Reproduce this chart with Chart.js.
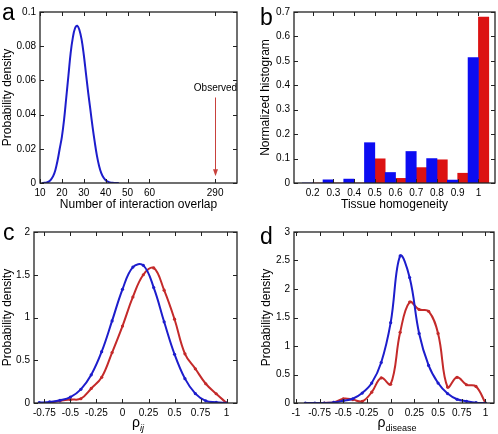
<!DOCTYPE html>
<html>
<head>
<meta charset="utf-8">
<script src="https://cdn.jsdelivr.net/npm/chart.js@4.4.1/dist/chart.umd.min.js"></script>
<style>
html, body { margin: 0; padding: 0; background: #fff; }
#wrap { position: relative; width: 498px; height: 434px; font-family: 'Liberation Sans', Arial, sans-serif; color: #000; }
canvas { position: absolute; }
.tag { position: absolute; font-size: 23px; line-height: 23px; }
.xt { position: absolute; font-size: 14px; line-height: 14px; white-space: nowrap; transform: translateX(-50%); }
.xt sub { font-size: 9px; vertical-align: -4px; }
</style>
</head>
<body>
<div id="wrap">
  <canvas id="ca" width="249" height="217" style="left:0;top:0"></canvas>
  <canvas id="cb" width="250" height="217" style="left:248px;top:0"></canvas>
  <canvas id="cc" width="249" height="217" style="left:0;top:217px"></canvas>
  <canvas id="cd" width="250" height="217" style="left:248px;top:217px"></canvas>
  <div class="tag" style="left:2px;top:1px">a</div>
  <div class="tag" style="left:260px;top:6px">b</div>
  <div class="tag" style="left:3px;top:221px">c</div>
  <div class="tag" style="left:260px;top:225px">d</div>
  <div class="xt" style="left:138px;top:415px">ρ<sub><i>ij</i></sub></div>
  <div class="xt" style="left:397px;top:415px">ρ<sub>disease</sub></div>
</div>
<script>
// panel a: null distribution of interaction overlap
const aX = [11, 12, 13, 14, 15, 16, 17, 18, 19, 20, 21, 22, 23, 24, 25, 26, 27, 28,
            29, 30, 31, 32, 33, 34, 35, 36, 37, 38, 39, 40, 41, 42, 43, 44, 45, 46];
const aY = [0, 0.0001, 0.0003, 0.0008, 0.002, 0.004, 0.0075, 0.013, 0.02, 0.027, 0.037, 0.05,
            0.063, 0.076, 0.085, 0.0905, 0.092, 0.0895, 0.084, 0.075, 0.064, 0.053, 0.043, 0.033,
            0.024, 0.016, 0.01, 0.0058, 0.0032, 0.0016, 0.0008, 0.0003, 0.0001, 0, 0, 0];
const aXTicks = [10, 20, 30, 40, 50, 60, 290];
const aYTicks = [0, 0.02, 0.04, 0.06, 0.08, 0.1];
const aYLabels = ['0', '0.02', '0.04', '0.06', '0.08', '0.1'];
const observed = 290;
const observedArrow = [0.05, 0.004];

// panel b: tissue homogeneity histogram
const bCats = [0.2, 0.3, 0.4, 0.5, 0.6, 0.7, 0.8, 0.9, 1];
const bBlue = [0, 0.013, 0.016, 0.165, 0.043, 0.129, 0.1, 0.012, 0.513];
const bRed = [0, 0, 0, 0.099, 0.019, 0.063, 0.095, 0.04, 0.679];
const bYTicks = [0, 0.1, 0.2, 0.3, 0.4, 0.5, 0.6, 0.7];

// panel c: rho_ij
const cX = [-0.8, -0.7, -0.6, -0.5, -0.4, -0.3, -0.2, -0.1, 0, 0.1, 0.2, 0.3, 0.4, 0.5, 0.6, 0.7, 0.8, 0.9, 1];
const cBlue = [0.005, 0.012, 0.032, 0.07, 0.16, 0.33, 0.6, 0.96, 1.33, 1.59, 1.61, 1.35, 0.95, 0.57, 0.285, 0.11, 0.025, 0.008, 0];
const cRed = [null, 0.005, 0.025, 0.04, 0.05, 0.17, 0.3, 0.59, 0.9, 1.24, 1.5, 1.58, 1.32, 0.98, 0.575, 0.4, 0.225, 0.108, 0];
const cXTicks = [-0.75, -0.5, -0.25, 0, 0.25, 0.5, 0.75, 1];
const cYTicks = [0, 0.5, 1, 1.5, 2];

// panel d: rho_disease
const dX = [-0.9, -0.8, -0.7, -0.6, -0.5, -0.4, -0.3, -0.2, -0.1, 0, 0.1, 0.2, 0.3, 0.4, 0.5, 0.6, 0.7, 0.8, 0.9, 1];
const dBlue = [0, 0, 0, 0.01, 0.04, 0.075, 0.175, 0.35, 0.71, 1.41, 2.58, 2.2, 1.22, 0.66, 0.35, 0.165, 0.065, 0.03, 0.005, 0];
const dRed = [null, null, 0, 0.01, 0.075, 0.06, 0.03, 0.19, 0.44, 0.33, 1.24, 1.77, 1.64, 1.61, 1.22, 0.28, 0.45, 0.32, 0.29, 0];
const dXTicks = [-1, -0.75, -0.5, -0.25, 0, 0.25, 0.5, 0.75, 1];
const dYTicks = [0, 0.5, 1, 1.5, 2, 2.5, 3];

const BLUE = '#1d1dcc';
const RED = '#c42a2a';

Chart.defaults.font.family = "'Liberation Sans', Arial, sans-serif";
Chart.defaults.font.size = 10;
Chart.defaults.color = '#000';
Chart.defaults.animation = false;
Chart.defaults.plugins.legend.display = false;
Chart.defaults.plugins.tooltip.enabled = false;

// axis break on panel a: values past 60 are squeezed next to 90
const aPos = v => v <= 60 ? v : 90 + (v - observed) / 10;

const fmt = v => String(v);

function axis(o) {
    return {
        type: 'linear',
        min: o.min,
        max: o.max,
        offset: false,
        afterBuildTicks: s => { s.ticks = o.ticks.map(v => ({ value: v })); },
        afterFit: s => { if (o.horiz) s.height = o.size; else s.width = o.size; },
        grid: { display: false, drawTicks: false },
        border: { display: false },
        ticks: {
            padding: 4,
            autoSkip: false,
            maxRotation: 0,
            color: '#000',
            font: { size: 10 },
            callback: (v, i) => o.labels ? o.labels[i] : fmt(v),
        },
        title: o.title
            ? { display: true, text: o.title, color: '#000', font: { size: 12 }, padding: { top: 0, bottom: o.titlePad || 0 } }
            : { display: false },
    };
}

// gnuplot-like frame with inward ticks on all four sides
const frameTicks = {
    id: 'frameTicks',
    afterDatasetsDraw(chart) {
        const { ctx, chartArea: a, scales } = chart;
        ctx.save();
        ctx.strokeStyle = '#222';
        ctx.lineWidth = 1;
        ctx.beginPath();
        for (const t of scales.x.ticks) {
            const px = Math.round(scales.x.getPixelForValue(t.value)) + 0.5;
            ctx.moveTo(px, a.bottom); ctx.lineTo(px, a.bottom - 4);
            ctx.moveTo(px, a.top); ctx.lineTo(px, a.top + 4);
        }
        for (const t of scales.y.ticks) {
            const py = Math.round(scales.y.getPixelForValue(t.value)) + 0.5;
            ctx.moveTo(a.left, py); ctx.lineTo(a.left + 4, py);
            ctx.moveTo(a.right, py); ctx.lineTo(a.right - 4, py);
        }
        ctx.stroke();
        ctx.lineWidth = 1.3;
        ctx.strokeRect(a.left, a.top, a.right - a.left, a.bottom - a.top);
        ctx.restore();
    },
};

const observedMark = {
    id: 'observedMark',
    afterDatasetsDraw(chart) {
        const { ctx, scales } = chart;
        const x = Math.round(scales.x.getPixelForValue(aPos(observed))) + 0.5;
        const y0 = scales.y.getPixelForValue(observedArrow[0]);
        const y1 = scales.y.getPixelForValue(observedArrow[1]);
        ctx.save();
        ctx.strokeStyle = '#c8413c';
        ctx.fillStyle = '#c8413c';
        ctx.lineWidth = 1;
        ctx.beginPath();
        ctx.moveTo(x, y0); ctx.lineTo(x, y1 - 4);
        ctx.stroke();
        ctx.beginPath();
        ctx.moveTo(x, y1); ctx.lineTo(x - 2.5, y1 - 7); ctx.lineTo(x + 2.5, y1 - 7);
        ctx.closePath();
        ctx.fill();
        ctx.fillStyle = '#000';
        ctx.font = "10px 'Liberation Sans', Arial, sans-serif";
        ctx.textAlign = 'center';
        ctx.textBaseline = 'middle';
        ctx.fillText('Observed', x, y0 - 9);
        ctx.restore();
    },
};

const pts = (xs, ys) => xs.map((x, i) => ({ x, y: ys[i] }));

function curve(xs, ys, color, marks) {
    return {
        data: pts(xs, ys),
        borderColor: color,
        backgroundColor: color,
        borderWidth: 2,
        tension: 0.4,
        pointRadius: marks ? 1.6 : 0,
        pointBorderWidth: 0,
        spanGaps: false,
        fill: false,
    };
}

new Chart(document.getElementById('ca'), {
    type: 'line',
    data: { datasets: [curve(aX, aY, BLUE, false)] },
    options: {
        responsive: false,
        layout: { padding: { left: 0, right: 12, top: 12, bottom: 0 } },
        scales: {
            x: axis({ min: 10, max: 100, ticks: aXTicks.map(aPos), labels: aXTicks.map(fmt), horiz: true, size: 34,
                      title: 'Number of interaction overlap', titlePad: 5 }),
            y: axis({ min: 0, max: 0.1, ticks: aYTicks, labels: aYLabels, size: 40, title: 'Probability density' }),
        },
    },
    plugins: [frameTicks, observedMark],
});

new Chart(document.getElementById('cb'), {
    type: 'bar',
    data: {
        datasets: [
            { data: pts(bCats, bBlue), backgroundColor: '#0c0cf2', categoryPercentage: 1, barPercentage: 1 },
            { data: pts(bCats, bRed), backgroundColor: '#dc1212', categoryPercentage: 1, barPercentage: 1 },
        ],
    },
    options: {
        responsive: false,
        layout: { padding: { left: 10, right: 3, top: 12, bottom: 0 } },
        scales: {
            x: axis({ min: 0.11, max: 1.08, ticks: bCats, horiz: true, size: 34, title: 'Tissue homogeneity', titlePad: 5 }),
            y: axis({ min: 0, max: 0.7, ticks: bYTicks, size: 36, title: 'Normalized histogram' }),
        },
    },
    plugins: [frameTicks],
});

new Chart(document.getElementById('cc'), {
    type: 'line',
    data: { datasets: [curve(cX, cBlue, BLUE, true), curve(cX, cRed, RED, true)] },
    options: {
        responsive: false,
        layout: { padding: { left: 0, right: 12, top: 15, bottom: 0 } },
        scales: {
            x: axis({ min: -0.85, max: 1.1, ticks: cXTicks, horiz: true, size: 31 }),
            y: axis({ min: 0, max: 2, ticks: cYTicks, size: 34, title: 'Probability density' }),
        },
    },
    plugins: [frameTicks],
});

new Chart(document.getElementById('cd'), {
    type: 'line',
    data: { datasets: [curve(dX, dBlue, BLUE, true), curve(dX, dRed, RED, true)] },
    options: {
        responsive: false,
        layout: { padding: { left: 11, right: 2, top: 15, bottom: 0 } },
        scales: {
            x: axis({ min: -1.02, max: 1.09, ticks: dXTicks, horiz: true, size: 31 }),
            y: axis({ min: 0, max: 3, ticks: dYTicks, size: 35, title: 'Probability density' }),
        },
    },
    plugins: [frameTicks],
});
</script>
</body>
</html>
